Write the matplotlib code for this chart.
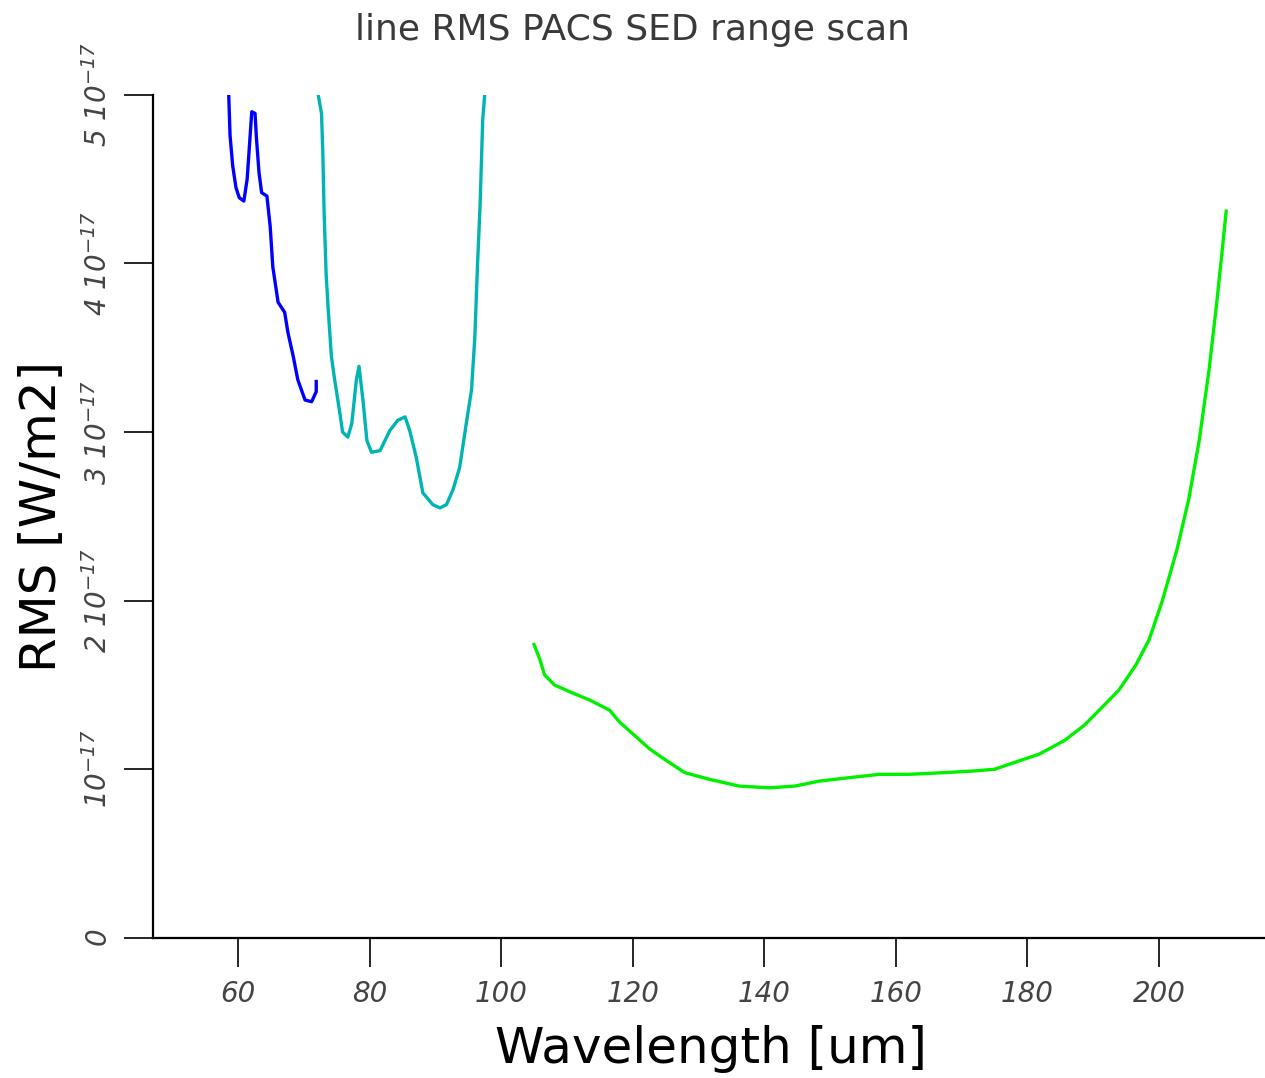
import matplotlib
matplotlib.use("Agg")
import matplotlib.pyplot as plt
from matplotlib.ticker import FixedLocator, FuncFormatter

plt.rcParams['font.family'] = ['DejaVu Sans']
plt.rcParams['mathtext.fontset'] = 'custom'
plt.rcParams['mathtext.it'] = 'DejaVu Sans:italic'
plt.rcParams['mathtext.rm'] = 'DejaVu Sans:italic'
plt.rcParams['mathtext.default'] = 'it'

# data (wavelength in um, rms in 1e-17 W/m2)
blue_x = [58.6, 58.8, 59.2, 59.7, 60.2, 60.9, 61.4, 61.7, 62.1, 62.6, 62.8, 63.2,
          63.6, 64.4, 64.9, 65.3, 66.1, 67.1, 67.6, 68.4, 69.1, 70.2, 71.2, 71.9, 71.9]
blue_y = [5.00, 4.76, 4.58, 4.45, 4.39, 4.37, 4.50, 4.67, 4.90, 4.89, 4.75, 4.54,
          4.42, 4.40, 4.22, 3.98, 3.77, 3.71, 3.59, 3.45, 3.31, 3.19, 3.18, 3.24, 3.30]

cyan_x = [72.2, 72.7, 72.9, 73.1, 73.4, 73.7, 74.2, 74.7, 75.5, 75.9, 76.7, 77.3,
          78.0, 78.4, 79.0, 79.6, 80.3, 81.6, 83.1, 84.3, 85.4, 86.1, 87.1, 88.1,
          89.6, 90.7, 91.7, 92.7, 93.7, 94.7, 95.5, 96.0, 96.4, 96.8, 97.2, 97.5]
cyan_y = [5.00, 4.89, 4.66, 4.30, 3.94, 3.74, 3.45, 3.31, 3.11, 3.00, 2.97, 3.05,
          3.31, 3.39, 3.19, 2.95, 2.88, 2.89, 3.01, 3.07, 3.09, 3.01, 2.85, 2.64,
          2.57, 2.55, 2.57, 2.66, 2.79, 3.05, 3.25, 3.56, 3.98, 4.34, 4.85, 5.00]

green_x = [105.0, 105.9, 106.6, 108.1, 110.4, 113.5, 116.5, 118.0, 120.3, 122.6,
           124.8, 127.9, 131.7, 136.2, 140.8, 144.6, 148.4, 152.9, 157.5, 162.0,
           167.4, 171.9, 175.0, 178.0, 181.8, 185.6, 188.6, 190.9, 193.9, 196.5,
           198.5, 200.5, 202.7, 204.5, 206.1, 207.6, 208.8, 209.6, 210.2]
green_y = [1.74, 1.65, 1.56, 1.50, 1.46, 1.41, 1.35, 1.28, 1.20, 1.12,
           1.06, 0.98, 0.94, 0.90, 0.89, 0.90, 0.93, 0.95, 0.97, 0.97,
           0.98, 0.99, 1.00, 1.04, 1.09, 1.17, 1.26, 1.35, 1.47, 1.62,
           1.77, 2.00, 2.30, 2.60, 2.95, 3.37, 3.78, 4.08, 4.31]

x_ticks = [60, 80, 100, 120, 140, 160, 180, 200]
y_ticks = [0, 1, 2, 3, 4, 5]


def ylab(v, pos):
    if v == 0:
        return r'$0$'
    if v == 1:
        return r'$10^{-17}$'
    return r'$%d\ 10^{-17}$' % v


fig = plt.figure(figsize=(12.65, 10.78), dpi=100)
ax = fig.add_axes([0.121, 0.13, 0.879, 0.782])

ax.plot(blue_x, blue_y, color='#0000ff', lw=2.4)
ax.plot(cyan_x, cyan_y, color='#00b4b4', lw=2.4)
ax.plot(green_x, green_y, color='#00f000', lw=2.4)

ax.set_xlim(47.1, 216.1)
ax.set_ylim(0, 5)

ax.xaxis.set_major_locator(FixedLocator(x_ticks))
ax.yaxis.set_major_locator(FixedLocator(y_ticks))
ax.yaxis.set_major_formatter(FuncFormatter(ylab))

for s in ['top', 'right']:
    ax.spines[s].set_visible(False)
for s in ['left', 'bottom']:
    ax.spines[s].set_linewidth(1.6)

ax.tick_params(axis='both', direction='out', length=21, width=1.2,
               labelsize=20, labelcolor='#444444')
ax.tick_params(axis='x', pad=9)
ax.tick_params(axis='y', pad=8)
for lab in ax.get_xticklabels():
    lab.set_fontstyle('italic')
for lab in ax.get_yticklabels():
    lab.set_rotation(90)
    lab.set_va('center')

ax.set_xlabel('Wavelength [um]', fontsize=36)
ax.set_ylabel('RMS [W/m2]', fontsize=36)
ax.xaxis.set_label_coords(0.502, -0.103)
ax.yaxis.set_label_coords(-0.078, 0.5)
fig.suptitle('line RMS PACS SED range scan', fontsize=26, color='#3a3a3a',
             y=0.988)

fig.savefig('out.png', dpi=100)
